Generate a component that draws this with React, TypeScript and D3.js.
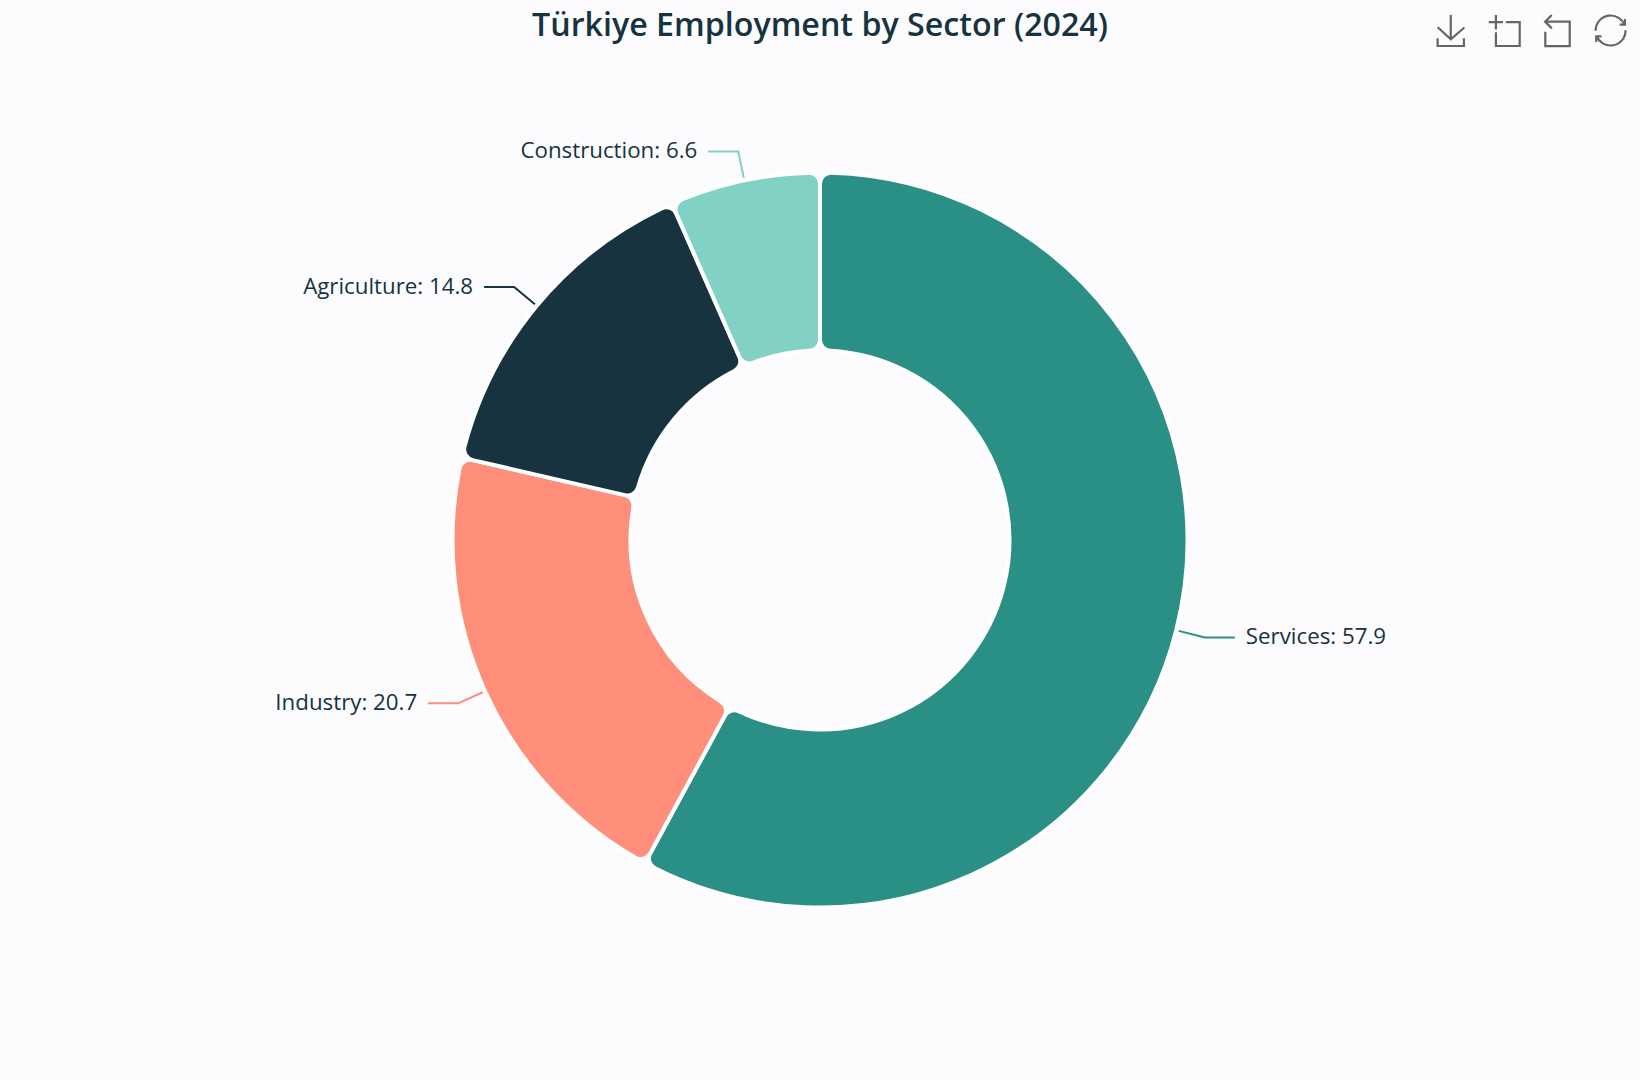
import React from "react";
import * as d3 from "d3";

const WIDTH = 1640;
const HEIGHT = 1080;

const sectors = ["Services", "Industry", "Agriculture", "Construction"];
const shares = [57.9, 20.7, 14.8, 6.6];
const colors = ["#2a9086", "#ff8f7b", "#17333f", "#81d2c5"];

const toolboxIcons = [
  { h: 58, w: 50.1, x0: 4.6, y0: 0, d: "M4.7,22.9L29.3,45.5L54.7,23.4M4.6,43.6L4.6,58L53.8,58L53.8,43.6M29.2,45.1L29.2,0" },
  { h: 58, w: 58, x0: 0, y0: 0, d: "M0,13.5h26.9 M13.5,26.9V0 M32.1,13.5H58V58H13.5 V32.1" },
  { h: 56.6, w: 45, x0: 9.9, y0: 1.4, d: "M22,1.4L9.9,13.5l12.3,12.3 M10.3,13.5H54.9v44.6 H10.3v-26" },
  { h: 58, w: 56, x0: 2, y0: 1, d: "M3.8,33.4 M47,18.9h9.8V8.7 M56.3,20.1 C52.1,9,40.5,0.6,26.8,2.1C12.6,3.7,1.6,16.2,2.1,30.6 M13,41.1H3.1v10.2 M3.7,39.9c4.2,11.1,15.8,19.5,29.5,18 c14.2-1.6,25.2-14.1,24.7-28.5" },
];

const FONT = "'Open Sans', 'Noto Sans', sans-serif";
const TEXT_COLOR = "#17333f";
const cx = 820;
const cy = 540;
const outerRadius = 367.5;
const innerRadius = 189.5;

export default function App() {
  const pie = d3
    .pie<number>()
    .sort(null)
    .value((d) => d);
  const arcs = pie(shares);
  const arc = d3
    .arc<d3.PieArcDatum<number>>()
    .innerRadius(innerRadius)
    .outerRadius(outerRadius)
    .cornerRadius(11);

  // leader line: just off the slice, out 27px, then a 30px horizontal run
  const leader = (a: d3.PieArcDatum<number>) => {
    const mid = (a.startAngle + a.endAngle) / 2;
    const px = (r: number) => [Math.sin(mid) * r, -Math.cos(mid) * r];
    const side = Math.sin(mid) >= 0 ? 1 : -1;
    const p1 = px(outerRadius + 2.5);
    const p2 = px(outerRadius + 29.5);
    const p3 = [p2[0] + side * 30, p2[1]];
    return { points: [p1, p2, p3], side, labelX: p3[0] + side * 11, labelY: p3[1] };
  };

  return (
    <svg
      width={WIDTH}
      height={HEIGHT}
      style={{ position: "absolute", left: 0, top: 0, background: "#fcfcfe" }}
    >
      <text
        x={cx}
        y={36}
        textAnchor="middle"
        fontFamily={FONT}
        fontWeight={600}
        fontSize={32.2}
        fill={TEXT_COLOR}
      >
        Türkiye Employment by Sector (2024)
      </text>

      <g transform={`translate(${cx},${cy})`}>
        {arcs.map((a, i) => (
          <path key={sectors[i]} d={arc(a) ?? ""} fill={colors[i]} stroke="#ffffff" strokeWidth={4} />
        ))}
        {arcs.map((a, i) => {
          const l = leader(a);
          return (
            <g key={sectors[i]}>
              <path
                d={d3.line()(l.points as [number, number][]) ?? ""}
                fill="none"
                stroke={colors[i]}
                strokeWidth={2}
              />
              <text
                x={l.labelX}
                y={l.labelY - 1}
                dy="0.35em"
                textAnchor={l.side > 0 ? "start" : "end"}
                fontFamily={FONT}
                fontSize={22.3}
                fill={TEXT_COLOR}
              >
                {`${sectors[i]}: ${shares[i]}`}
              </text>
            </g>
          );
        })}
      </g>

      {toolboxIcons.map((icon, i) => {
        const s = 31 / icon.h;
        const centerX = 1451 + i * 53.2;
        const tx = centerX - (icon.x0 + icon.w / 2) * s;
        const ty = 15 - icon.y0 * s;
        return (
          <path
            key={i}
            d={icon.d}
            transform={`translate(${tx},${ty}) scale(${s})`}
            fill="none"
            stroke="#666666"
            strokeWidth={2.2}
            vectorEffect="non-scaling-stroke"
          />
        );
      })}
    </svg>
  );
}
